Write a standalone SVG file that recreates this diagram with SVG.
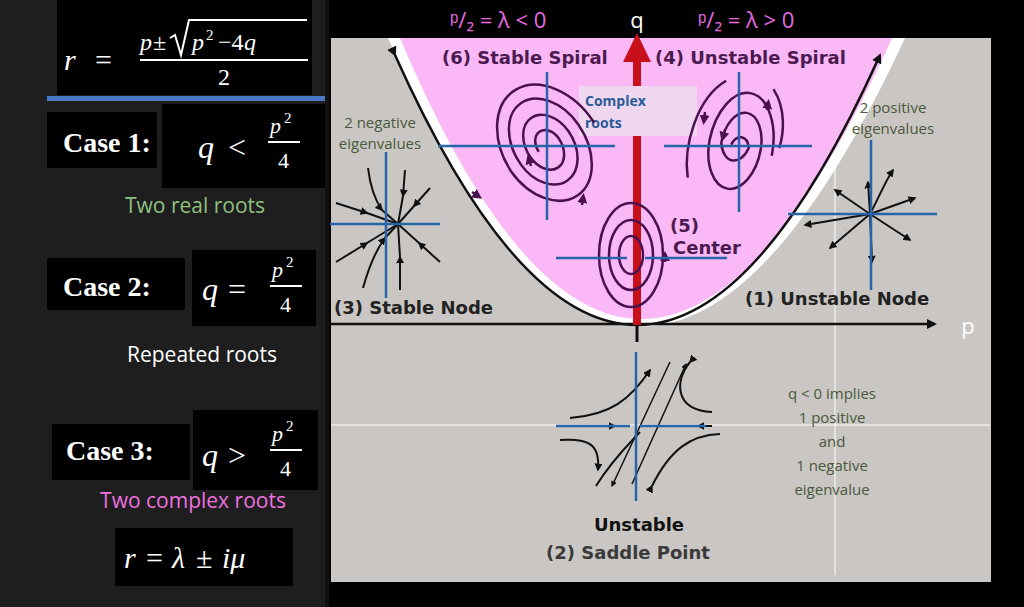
<svg xmlns="http://www.w3.org/2000/svg" width="1024" height="607" viewBox="0 0 1024 607">
<defs>
<marker id="ah" viewBox="0 0 10 10" refX="8" refY="5" markerWidth="4" markerHeight="4" orient="auto"><path d="M0,0L10,5L0,10z" fill="#111"/></marker>
<marker id="ahp" viewBox="0 0 10 10" refX="5" refY="5" markerWidth="4" markerHeight="4" orient="auto"><path d="M0,0L10,5L0,10z" fill="#4a1050"/></marker>
</defs>
<style>
.m{font-family:"Liberation Serif",serif;fill:#fff}
.mi{font-family:"Liberation Serif",serif;font-style:italic;fill:#fff}
.b{font-family:"DejaVu Sans",sans-serif;font-weight:bold;fill:#222;font-size:18px}
.bp{font-family:"DejaVu Sans",sans-serif;font-weight:bold;fill:#4a1a50;font-size:18px}
.g{font-family:"Open Sans",sans-serif;fill:#4a5a3a;font-size:15px}
.ax{stroke:#2a64a8;stroke-width:2.5;fill:none}
.tr{stroke:#111;stroke-width:2;fill:none}
.sp{stroke:#4a1050;stroke-width:2.5;fill:none}
</style>
<rect width="1024" height="607" fill="#000"/>
<rect width="325" height="607" fill="#1e1e1e"/>
<g id="formulas">
<rect x="57" y="0" width="255" height="95" fill="#000"/>
<text x="64" y="70" class="mi" font-size="30">r</text>
<text x="95" y="70" class="m" font-size="30">=</text>
<text x="140" y="50" class="mi" font-size="24">p</text><text x="153" y="50" class="m" font-size="24">±</text>
<path d="M170,38 l5,-3 l6,20 l8,-35 h118" stroke="#fff" stroke-width="2" fill="none"/>
<text x="192" y="50" class="mi" font-size="24">p</text><text x="206" y="40" class="m" font-size="15">2</text><text x="218" y="50" class="m" font-size="24">−4</text><text x="244" y="50" class="mi" font-size="24">q</text>
<line x1="140" y1="60" x2="308" y2="60" stroke="#fff" stroke-width="2"/>
<text x="218" y="85" class="m" font-size="24">2</text>
<rect x="47" y="96" width="278" height="5" fill="#4a78c8"/>
<rect x="47" y="112" width="110" height="56" fill="#000"/><rect x="162" y="104" width="164" height="84" fill="#000"/>
<text x="63" y="152" class="m" font-size="28" font-weight="bold">Case 1:</text>
<text x="198" y="158" class="mi" font-size="32">q</text><text x="228" y="158" class="m" font-size="32">&lt;</text>
<text x="270" y="133" class="mi" font-size="22">p</text><text x="284" y="123" class="m" font-size="15">2</text>
<line x1="268" y1="142" x2="300" y2="142" stroke="#fff" stroke-width="2"/><text x="278" y="168" class="m" font-size="22">4</text>
<text x="195" y="213" font-family="Open Sans,sans-serif" font-size="21" fill="#90c080" text-anchor="middle">Two real roots</text>
<rect x="47" y="258" width="138" height="52" fill="#000"/><rect x="192" y="250" width="124" height="76" fill="#000"/>
<text x="63" y="296" class="m" font-size="28" font-weight="bold">Case 2:</text>
<text x="202" y="300" class="mi" font-size="32">q</text><text x="228" y="300" class="m" font-size="32">=</text>
<text x="272" y="277" class="mi" font-size="22">p</text><text x="286" y="267" class="m" font-size="15">2</text>
<line x1="270" y1="286" x2="302" y2="286" stroke="#fff" stroke-width="2"/><text x="280" y="312" class="m" font-size="22">4</text>
<text x="202" y="362" font-family="Open Sans,sans-serif" font-size="21" fill="#fff" text-anchor="middle">Repeated roots</text>
<rect x="52" y="424" width="138" height="56" fill="#000"/><rect x="193" y="410" width="125" height="80" fill="#000"/>
<text x="66" y="460" class="m" font-size="28" font-weight="bold">Case 3:</text>
<text x="202" y="466" class="mi" font-size="32">q</text><text x="228" y="466" class="m" font-size="32">&gt;</text>
<text x="272" y="441" class="mi" font-size="22">p</text><text x="286" y="431" class="m" font-size="15">2</text>
<line x1="270" y1="450" x2="302" y2="450" stroke="#fff" stroke-width="2"/><text x="280" y="476" class="m" font-size="22">4</text>
<text x="193" y="508" font-family="Open Sans,sans-serif" font-size="21" fill="#f070e0" text-anchor="middle">Two complex roots</text>
<rect x="115" y="528" width="178" height="58" fill="#000"/>
<text x="124" y="568" class="mi" font-size="30">r</text><text x="146" y="568" class="m" font-size="30">= </text><text x="172" y="568" class="mi" font-size="30">λ</text><text x="196" y="568" class="m" font-size="30">±</text><text x="222" y="568" class="mi" font-size="30">iμ</text>
</g>
<g id="plane">
<rect x="325" y="0" width="4" height="607" fill="#111"/>
<rect x="331" y="38" width="660" height="544" fill="#c9c6c3"/>
<line x1="331" y1="425" x2="990" y2="425" stroke="#fff" stroke-width="1"/>
<line x1="835" y1="38" x2="835" y2="575" stroke="#fff" stroke-width="1"/>
<path d="M388,38 Q637,615 905,38 Z" fill="#fff"/>
<path d="M400,38 Q637,600 892,38 Z" fill="#fbb8f6"/>
<path d="M395,55 Q637,595 880,55" stroke="#111" stroke-width="2.5" fill="none" marker-start="url(#ah)" marker-end="url(#ah)"/>
<line x1="331" y1="324" x2="935" y2="324" stroke="#111" stroke-width="2.5" marker-end="url(#ah)"/>
<line x1="637" y1="326" x2="637" y2="342" stroke="#111" stroke-width="3"/>
<rect x="633" y="60" width="8" height="265" fill="#c8101a"/>
<path d="M623,62 L637,33 L651,62 Z" fill="#c8101a"/>
<rect x="579" y="86" width="118" height="50" fill="#efd8ef"/>
</g>
<g id="labels">
<text x="450" y="28" font-family="Open Sans,sans-serif" font-size="22" fill="#e868e0">ᵖ/₂ = λ &lt; 0</text>
<text x="637" y="28" font-family="Open Sans,sans-serif" font-size="22" fill="#fff" text-anchor="middle">q</text>
<text x="698" y="28" font-family="Open Sans,sans-serif" font-size="22" fill="#e868e0">ᵖ/₂ = λ &gt; 0</text>
<text x="968" y="334" font-family="Open Sans,sans-serif" font-size="22" fill="#fff" text-anchor="middle">p</text>
<text x="442" y="64" class="bp">(6) Stable Spiral</text>
<text x="655" y="64" class="bp">(4) Unstable Spiral</text>
<text x="585" y="106" font-family="Open Sans,sans-serif" font-weight="bold" font-size="14" fill="#2a5a98">Complex</text>
<text x="585" y="128" font-family="Open Sans,sans-serif" font-weight="bold" font-size="14" fill="#2a5a98">roots</text>
<text x="380" y="128" class="g" text-anchor="middle">2 negative</text>
<text x="380" y="149" class="g" text-anchor="middle">eigenvalues</text>
<text x="893" y="113" class="g" text-anchor="middle">2 positive</text>
<text x="893" y="134" class="g" text-anchor="middle">eigenvalues</text>
<text x="670" y="232" class="bp">(5)</text>
<text x="673" y="254" class="bp">Center</text>
<text x="334" y="314" class="b">(3) Stable Node</text>
<text x="745" y="305" class="b">(1) Unstable Node</text>
<text x="832" y="399" class="g" text-anchor="middle" font-size="16">q &lt; 0 implies</text>
<text x="832" y="423" class="g" text-anchor="middle" font-size="16">1 positive</text>
<text x="832" y="447" class="g" text-anchor="middle" font-size="16">and</text>
<text x="832" y="471" class="g" text-anchor="middle" font-size="16">1 negative</text>
<text x="832" y="495" class="g" text-anchor="middle" font-size="16">eigenvalue</text>
<text x="639" y="531" class="b" text-anchor="middle" style="fill:#111">Unstable</text>
<text x="628" y="559" class="b" text-anchor="middle" style="fill:#3a3a3a">(2) Saddle Point</text>
</g>
<g id="portraits">
<g transform="translate(547,146) rotate(-35)">
<path class="sp" d="M52,8 A48,68 0 0 0 -44,0 A41,58 0 0 0 38,0 A35,50 0 0 0 -32,0 A29,40 0 0 0 26,0 A23,32 0 0 0 -20,0 A17,24 0 0 0 14,0 A12,16 0 0 0 -10,0"/>
</g>
<path class="sp" d="M472,192 L478,196" marker-end="url(#ahp)"/>
<path class="sp" d="M582,205 L583,198" marker-end="url(#ahp)"/>
<path class="sp" d="M531,166 L529,159" marker-end="url(#ahp)"/>
<line class="ax" x1="438" y1="146" x2="615" y2="146"/><line class="ax" x1="547" y1="72" x2="547" y2="220"/>
<g transform="translate(739,146) rotate(10)">
<path class="sp" d="M-8,0 A10,16 0 0 1 10,0 A15,24 0 0 1 -18,0 A20,34 0 0 1 22,0 A26,44 0 0 1 -30,0 A32,56 0 0 1 34,4"/>
<path class="sp" d="M-24,-62 C-50,-40 -55,10 -45,40"/>
<path class="sp" d="M24,-62 C40,-45 42,-20 40,-5"/>
</g>
<path class="sp" d="M705,112 L704,120" marker-end="url(#ahp)"/>
<path class="sp" d="M767,110 L768,104" marker-end="url(#ahp)"/>
<path class="sp" d="M725,130 L723,137" marker-end="url(#ahp)"/>
<line class="ax" x1="664" y1="146" x2="812" y2="146"/><line class="ax" x1="739" y1="72" x2="739" y2="212"/>
<ellipse class="sp" cx="631" cy="255" rx="32" ry="52"/>
<ellipse class="sp" cx="631" cy="255" rx="22" ry="35"/>
<ellipse class="sp" cx="631" cy="255" rx="12" ry="19"/>
<path class="sp" d="M665,262 L665,256" marker-end="url(#ahp)"/>
<line class="ax" x1="556" y1="258" x2="627" y2="258"/><line class="ax" x1="645" y1="258" x2="727" y2="258"/>
<g class="tr" marker-mid="url(#ah)">
<path d="M336,203 L367,213 L398,224"/><path d="M336,262 L367,243 L398,224"/>
<path d="M430,188 L414,206 L398,224"/><path d="M368,168 C370,185 375,200 382,210 L398,224"/>
<path d="M405,170 L403,196 L398,224"/><path d="M363,288 C368,270 376,250 385,238 L398,224"/>
<path d="M400,290 L400,257 L398,224"/><path d="M440,262 L419,243 L398,224"/>
</g>
<line class="ax" x1="330" y1="224" x2="440" y2="224"/><line class="ax" x1="386" y1="152" x2="386" y2="298"/>
<g class="tr">
<path d="M870,214 L915,198" marker-end="url(#ah)"/><path d="M870,214 L805,225" marker-end="url(#ah)"/>
<path d="M870,214 L910,240" marker-end="url(#ah)"/><path d="M870,214 L835,190" marker-end="url(#ah)"/>
<path d="M870,214 L868,182" marker-end="url(#ah)"/><path d="M870,214 L872,262" marker-end="url(#ah)"/>
<path d="M870,214 L830,248" marker-end="url(#ah)"/><path d="M870,214 C880,195 886,180 893,170" marker-end="url(#ah)"/>
</g>
<line class="ax" x1="788" y1="214" x2="937" y2="214"/><line class="ax" x1="871" y1="140" x2="871" y2="290"/>
<g class="tr">
<path d="M570,418 C610,415 630,400 650,370" marker-end="url(#ah)"/>
<path d="M632,484 L686,364" stroke-width="1.5" marker-end="url(#ah)"/>
<path d="M670,362 L612,486" stroke-width="1.5" marker-end="url(#ah)"/>
<path d="M596,486 C612,460 628,445 640,432"/>
<path d="M690,362 C676,378 672,410 712,412" marker-start="url(#ah)"/>
<path d="M560,440 C590,438 600,445 598,470" marker-end="url(#ah)"/>
<path d="M652,486 C670,450 690,435 720,434" marker-start="url(#ah)"/>
<path d="M590,426 L615,426" marker-end="url(#ah)"/><path d="M712,426 L698,426" marker-end="url(#ah)"/>
</g>
<line class="ax" x1="556" y1="426" x2="630" y2="426"/><line class="ax" x1="640" y1="426" x2="706" y2="426"/><line class="ax" x1="636" y1="352" x2="636" y2="501"/>
</g>
</svg>
